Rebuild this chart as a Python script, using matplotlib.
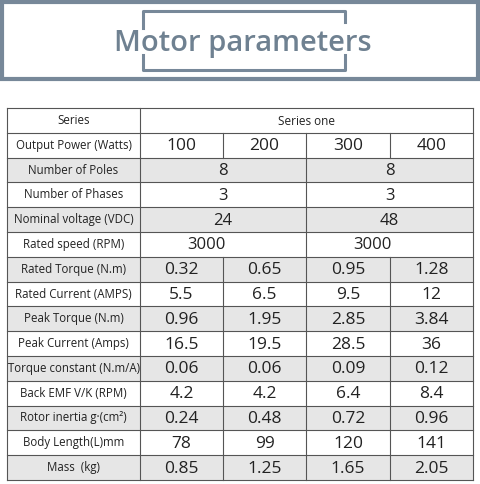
import matplotlib
matplotlib.use("Agg")
import matplotlib.pyplot as plt
from matplotlib.patches import Rectangle

title = "Motor parameters"
labels = ["Series", "Output Power (Watts)", "Number of Poles", "Number of Phases",
          "Nominal voltage (VDC)", "Rated speed (RPM)", "Rated Torque (N.m)",
          "Rated Current (AMPS)", "Peak Torque (N.m)", "Peak Current (Amps)",
          "Torque constant (N.m/A)", "Back EMF V/K (RPM)", "Rotor inertia g·(cm²)",
          "Body Length(L)mm", "Mass  (kg)"]
series_name = "Series one"
output_power = ["100", "200", "300", "400"]
poles = ["8", "8"]
phases = ["3", "3"]
voltage = ["24", "48"]
rated_speed = ["3000", "3000"]
rated_torque = ["0.32", "0.65", "0.95", "1.28"]
rated_current = ["5.5", "6.5", "9.5", "12"]
peak_torque = ["0.96", "1.95", "2.85", "3.84"]
peak_current = ["16.5", "19.5", "28.5", "36"]
torque_const = ["0.06", "0.06", "0.09", "0.12"]
back_emf = ["4.2", "4.2", "6.4", "8.4"]
rotor_inertia = ["0.24", "0.48", "0.72", "0.96"]
body_length = ["78", "99", "120", "141"]
mass = ["0.85", "1.25", "1.65", "2.05"]

rows = [[series_name], output_power, poles, phases, voltage, rated_speed,
        rated_torque, rated_current, peak_torque, peak_current, torque_const,
        back_emf, rotor_inertia, body_length, mass]

fig = plt.figure(figsize=(4.8, 4.84), dpi=100)
ax = fig.add_axes([0, 0, 1, 1])
ax.set_xlim(0, 480); ax.set_ylim(484, 0); ax.axis("off")

gc = "#778899"
ax.add_patch(Rectangle((2, 2), 476, 77, fill=False, ec=gc, lw=3))
ax.plot([143, 143, 345, 345], [28, 11, 11, 22], color=gc, lw=2.2)
ax.plot([143, 143, 345, 345], [55, 70, 70, 55], color=gc, lw=2.2)
ax.text(243, 43, title, ha="center", va="center", fontsize=21, fontweight="semibold",
        color="#6f8191", family="Open Sans")

top, bot = 108, 480
n = len(rows)
rh = (bot - top) / n
x0, x1 = 7, 473
cols = [140, 223, 306, 390, 473]
lc = "#555555"
for i, vals in enumerate(rows):
    y = top + i * rh
    if i % 2 == 0 and i > 0:
        ax.add_patch(Rectangle((x0, y), x1 - x0, rh, color="#e6e6e6", lw=0))
    ax.text((x0 + cols[0]) / 2, y + rh / 2, labels[i], ha="center", va="center",
            fontsize=8.3, color="#222222", family="Open Sans")
    if len(vals) == 1:
        edges = [cols[0], cols[4]]; fs = 8.5
    elif len(vals) == 2:
        edges = [cols[0], cols[2], cols[4]]; fs = 12
    else:
        edges = cols; fs = 12.5
    for j, v in enumerate(vals):
        cx = (edges[j] + edges[j + 1]) / 2
        if labels[i].startswith("Rated speed"):
            cx -= 17
        ax.text(cx, y + rh / 2 + 1, v, ha="center", va="center", fontsize=fs,
                color="#222222", family="Open Sans")
    for e in edges[1:-1]:
        ax.plot([e, e], [y, y + rh], color=lc, lw=0.8)
    ax.plot([x0, x1], [y, y], color=lc, lw=0.8)
ax.plot([x0, x1], [bot, bot], color=lc, lw=0.8)
ax.plot([x0, x0], [top, bot], color=lc, lw=0.8)
ax.plot([x1, x1], [top, bot], color=lc, lw=0.8)
ax.plot([cols[0], cols[0]], [top, bot], color=lc, lw=0.8)

fig.savefig("out.png", dpi=100, facecolor="white")
